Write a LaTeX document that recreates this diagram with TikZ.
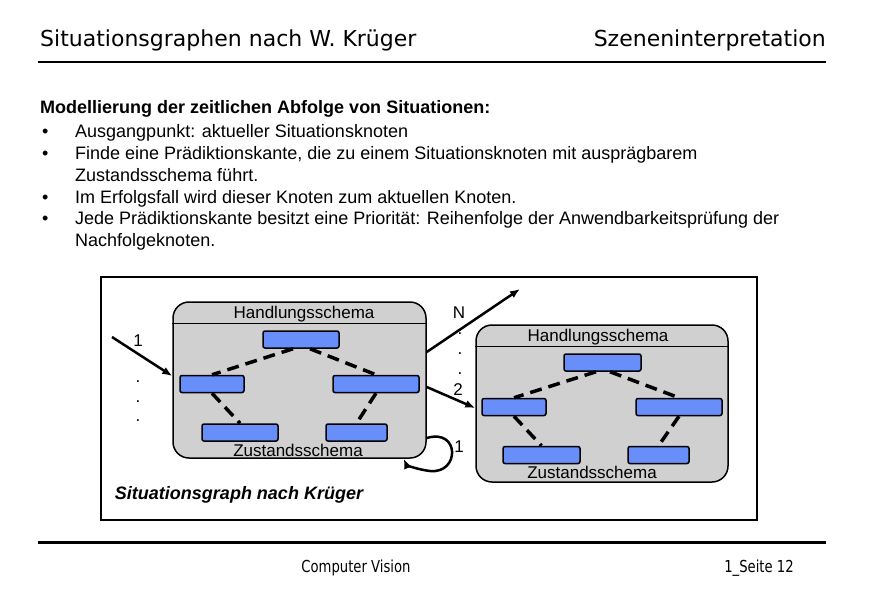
\documentclass[tikz,border=0pt]{standalone}
\usepackage{fontspec}
\setmainfont{Liberation Sans}
\newfontfamily\headfont{DejaVu Sans}
\newfontfamily\footfont[FakeStretch=0.8]{DejaVu Sans}
\usetikzlibrary{arrows.meta}
\definecolor{schemagray}{RGB}{208,208,208}
\definecolor{knotblue}{RGB}{104,142,250}

\begin{document}
\begin{tikzpicture}[x=1pt, y=-1pt]
	\tikzstyle{schemaStyle}=[draw, line width=1.5pt, fill=schemagray, rounded corners=16pt, minimum width=253pt, minimum height=156pt, inner sep=0pt]
	\tikzstyle{knotStyle}=[draw, line width=1.5pt, fill=knotblue, rounded corners=2pt, minimum height=17pt, inner sep=0pt]
	\tikzstyle{dashStyle}=[line width=3.5pt, dash pattern=on 12pt off 7pt]
	\tikzstyle{edgeStyle}=[-{Latex[length=10pt, width=8pt]}, line width=2.5pt]
	\tikzstyle{labelStyle}=[font=\fontsize{17}{20}\selectfont, inner sep=0pt]
	\tikzstyle{textStyle}=[anchor=base west, font=\fontsize{18}{20}\selectfont, inner sep=0pt]
	\tikzstyle{headStyle}=[font=\headfont\fontsize{22}{26}\selectfont, inner sep=0pt]
	\tikzstyle{footStyle}=[anchor=base, font=\footfont\fontsize{16.5}{18}\selectfont, inner sep=0pt]
	\useasboundingbox (0,0) rectangle (870,600);
	\node[headStyle, anchor=base west] (title) at (40,46) {Situationsgraphen nach W. Krüger};
	\node[headStyle, anchor=base east] (topic) at (826,46) {Szeneninterpretation};
	\draw[line width=2pt] (38,62) -- (826,62);
	\node[textStyle, font=\bfseries\fontsize{18}{20}\selectfont] (head) at (40,113) {Modellierung der zeitlichen Abfolge von Situationen:};
	\node[textStyle] (b1) at (42,137) {\textbullet};
	\node[textStyle] (t1) at (75,137) {Ausgangpunkt: aktueller Situationsknoten};
	\node[textStyle] (b2) at (42,159) {\textbullet};
	\node[textStyle] (t2) at (75,159) {Finde eine Prädiktionskante, die zu einem Situationsknoten mit ausprägbarem};
	\node[textStyle] (t2b) at (75,181) {Zustandsschema führt.};
	\node[textStyle] (b3) at (42,203) {\textbullet};
	\node[textStyle] (t3) at (75,203) {Im Erfolgsfall wird dieser Knoten zum aktuellen Knoten.};
	\node[textStyle] (b4) at (42,224) {\textbullet};
	\node[textStyle] (t4) at (75,224) {Jede Prädiktionskante besitzt eine Priorität: Reihenfolge der Anwendbarkeitsprüfung der};
	\node[textStyle] (t4b) at (75,246) {Nachfolgeknoten.};
	\draw[line width=1.5pt] (101,277) rectangle (757,520);
	\node[schemaStyle] (L) at (299.5,380) {};
	\draw[line width=1.5pt] ([yshift=-22pt]L.north west) -- ([yshift=-22pt]L.north east);
	\node[labelStyle] (Lh) at (304,314) {Handlungsschema};
	\node[labelStyle] (Lz) at (298,450) {Zustandsschema};
	\node[knotStyle, minimum width=76pt] (Lt) at (301,339.5) {};
	\node[knotStyle, minimum width=64pt] (Ll) at (212,384) {};
	\node[knotStyle, minimum width=86pt] (Lr) at (376,384) {};
	\node[knotStyle, minimum width=76pt] (Lbl) at (240,432.5) {};
	\node[knotStyle, minimum width=61pt] (Lbr) at (356.5,432.5) {};
	\draw[dashStyle] ([xshift=-8pt]Lt.south) -- (Ll.north);
	\draw[dashStyle] ([xshift=9pt]Lt.south) -- (Lr.north);
	\draw[dashStyle] (Ll.south) -- (Lbl.north);
	\draw[dashStyle] (Lr.south) -- (Lbr.north);
	\node[schemaStyle, minimum width=252pt, minimum height=157pt] (R) at (602,403.5) {};
	\draw[line width=1.5pt] ([yshift=-22pt]R.north west) -- ([yshift=-22pt]R.north east);
	\node[labelStyle] (Rh) at (598,337) {Handlungsschema};
	\node[labelStyle] (Rz) at (592,472) {Zustandsschema};
	\node[knotStyle, minimum width=77pt] (Rt) at (602.5,362.5) {};
	\node[knotStyle, minimum width=64pt] (Rl) at (514,407) {};
	\node[knotStyle, minimum width=86pt] (Rr) at (679,407) {};
	\node[knotStyle, minimum width=77pt] (Rbl) at (541.5,455) {};
	\node[knotStyle, minimum width=61pt] (Rbr) at (658.5,455) {};
	\draw[dashStyle] ([xshift=-6.5pt]Rt.south) -- (Rl.north);
	\draw[dashStyle] ([xshift=7.5pt]Rt.south) -- (Rr.north);
	\draw[dashStyle] (Rl.south) -- (Rbl.north);
	\draw[dashStyle] (Rr.south) -- (Rbr.north);
	\coordinate (in) at (112,337);
	\coordinate (out) at (520,289);
	\draw[edgeStyle] (in) -- ([yshift=4pt]L.west);
	\draw[edgeStyle] ([yshift=28pt]L.east) -- (out);
	\draw[edgeStyle] ([yshift=-7pt]L.east) -- ([yshift=-4.5pt]R.west);
	\draw[edgeStyle] ([yshift=-58pt]L.east) .. controls (460,428) and (460,474) .. (430,471) .. controls (414,469) and (406,464) .. ([xshift=-23pt]L.south east);
	\node[labelStyle] (n1) at (138,341) {1};
	\node[labelStyle] (d1) at (138,382) {.};
	\node[labelStyle] (d2) at (138,402) {.};
	\node[labelStyle] (d3) at (138,421) {.};
	\node[labelStyle] (nN) at (459,313) {N};
	\node[labelStyle] (d4) at (460,334) {.};
	\node[labelStyle] (d5) at (460,354) {.};
	\node[labelStyle] (d6) at (460,374) {.};
	\node[labelStyle] (n2) at (458,390) {2};
	\node[labelStyle] (n3) at (459,447) {1};
	\node[labelStyle, font=\bfseries\itshape\fontsize{18}{20}\selectfont] (cap) at (239,495) {Situationsgraph nach Krüger};
	\draw[line width=3pt] (38,542) -- (826,542);
	\node[footStyle] (foot) at (356,572) {Computer Vision};
	\node[footStyle] (page) at (759,572) {1\_Seite 12};
\end{tikzpicture}
\end{document}
